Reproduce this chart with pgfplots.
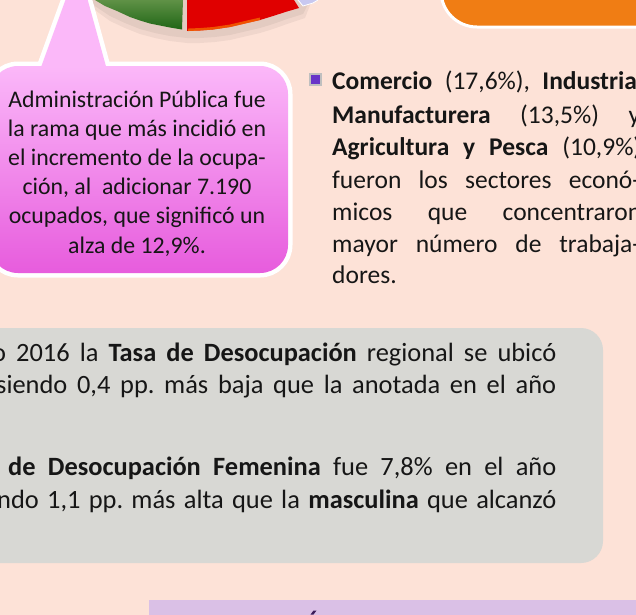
\documentclass[border=0pt]{standalone}
\usepackage{pgfplots}
\pgfplotsset{compat=1.18}
\usepackage{fontspec}
\setmainfont{Carlito}
\frenchspacing
\definecolor{bg}{RGB}{253,226,215}
\definecolor{pinktop}{RGB}{251,184,249}
\definecolor{pinkbot}{RGB}{231,92,221}
\definecolor{orangebox}{RGB}{240,125,20}
\definecolor{graybox}{RGB}{216,216,212}
\definecolor{purplebox}{RGB}{218,192,230}
\definecolor{bulletc}{RGB}{104,52,200}
\definecolor{greentop}{RGB}{95,145,70}
\definecolor{greenbot}{RGB}{32,102,22}
\definecolor{redc}{RGB}{224,0,0}
\definecolor{orangeedge}{RGB}{245,110,0}
\definecolor{lav}{RGB}{200,200,240}
\definecolor{txt}{RGB}{22,22,22}
\definecolor{darkpurple}{RGB}{60,28,90}
\begin{document}
\begin{tikzpicture}
\begin{axis}[width=636pt,height=614pt,
  scale only axis,xmin=0,xmax=636,ymin=0,ymax=614,y dir=reverse,
  hide axis,clip=true]
\path (0,0) rectangle (636,614);
\begin{scope}[overlay]
\fill[bg] (-10,-10) rectangle (650,630);
\end{scope}
% pie shadow
\addplot[draw=none,fill=black,opacity=0.05] coordinates {(90,0) (95,6) (110,16) (125,23) (140,29) (155,33) (170,36) (187,38) (200,38) (215,37) (230,35) (247,31) (260,28) (273,24) (287,19) (303,14) (310,0)};
\addplot[draw=none,fill=black,opacity=0.05] coordinates {(90,0) (95,10) (110,21) (125,28) (140,34) (155,38) (170,41) (187,43) (200,43) (215,42) (230,40) (247,36) (260,33) (273,29) (287,24) (305,18) (312,0)};
% green slice
\addplot[draw=none,top color=greentop,bottom color=greenbot] coordinates {(95,0) (105,6) (117,11) (130,17) (140,20.5) (150,23.5) (160,25.5) (170,27.5) (182,29.5) (183,0)};
% red slice
\addplot[draw=none,fill=redc] coordinates {(187,0) (187,31) (200,30.5) (213,29.5) (230,27) (247,23) (260,20) (273,16) (287,11.5) (299,8) (294,0)};
\addplot[orangeedge,line width=2.5pt,opacity=0.75] coordinates {(188,29.8) (200,29.3) (213,28.3) (230,25.8) (247,21.8) (260,18.8)};
% lavender slice
\addplot[draw=white,line width=0.8pt,fill=lav] coordinates {(298,0) (303,6) (313,3) (318,0)};
\begin{scope}[overlay]
% orange box
\path[fill=orangebox,draw=white,line width=3pt,rounded corners=36pt] (441,-200) rectangle (720,27);
% pink callout
\path[draw=white,line width=9pt,rounded corners=28pt] (-10,66) rectangle (288,273);
\path[draw=white,line width=9pt,line join=round] (40,70) -- (72.7,-20) -- (82.2,-20) -- (107,70) -- cycle;
\fill[pinktop] (40,70) -- (72.7,-20) -- (82.2,-20) -- (107,70) -- cycle;
\shade[top color=pinktop,bottom color=pinkbot,rounded corners=28pt] (-10,66) rectangle (288,273);
\end{scope}
\begin{scope}[overlay,every node/.style={anchor=base,inner sep=0pt,text=txt,font=\fontsize{23.8}{29}\selectfont}]
\node at (137,107) {Administración Pública fue};
\node at (137,136.2) {la rama que más incidió en};
\node at (137,165.4) {el incremento de la ocupa-};
\node at (137,194.6) {ción, al\ \ adicionar 7.190};
\node at (137,223.8) {ocupados, que significó un};
\node at (137,253) {alza de 12,9\%.};
\end{scope}
\begin{scope}[overlay]
\path[fill=bulletc,draw=black!25,line width=1.2pt] (310,74) rectangle (321,85);
\end{scope}
\begin{scope}[overlay,every node/.style={anchor=base west,inner sep=0pt,text=txt,font=\fontsize{25.5}{31}\selectfont}]
\node at (332,89) {\makebox[311pt][s]{\textbf{Comercio} (17,6\%), \textbf{Industrial}}};
\node at (332,123) {\makebox[308pt][s]{\textbf{Manufacturera} (13,5\%) y}};
\node at (332,155) {\makebox[309pt][s]{\textbf{Agricultura y Pesca} (10,9\%)}};
\node at (332,188) {\makebox[308pt][s]{fueron los sectores econó-}};
\node at (332,220) {\makebox[309pt][s]{micos que concentraron}};
\node at (332,252) {\makebox[308pt][s]{mayor número de trabaja-}};
\node at (332,283) {dores.};
\end{scope}
\begin{scope}[overlay]
\path[fill=graybox,rounded corners=22pt] (-40,328) rectangle (603,563);
\end{scope}
\begin{scope}[overlay,every node/.style={anchor=base west,inner sep=0pt,text=txt,font=\fontsize{26.4}{32}\selectfont}]
\node at (-8,361) {\makebox[564pt][s]{o 2016 la \textbf{Tasa de Desocupación} regional se ubicó}};
\node at (-4,393) {\makebox[560pt][s]{siendo 0,4 pp. más baja que la anotada en el año}};
\node at (8,475) {\makebox[548pt][s]{\textbf{de Desocupación Femenina} fue 7,8\% en el año}};
\node at (-3,508) {\makebox[559pt][s]{ndo 1,1 pp. más alta que la \textbf{masculina} que alcanzó}};
\end{scope}
\begin{scope}[overlay]
\fill[purplebox] (149,600) rectangle (720,700);
\fill[darkpurple] (310.5,614.5) -- (313.5,610.5) -- (316.5,610.5) -- (313.5,614.5) -- cycle;
\end{scope}
\end{axis}
\end{tikzpicture}
\end{document}
